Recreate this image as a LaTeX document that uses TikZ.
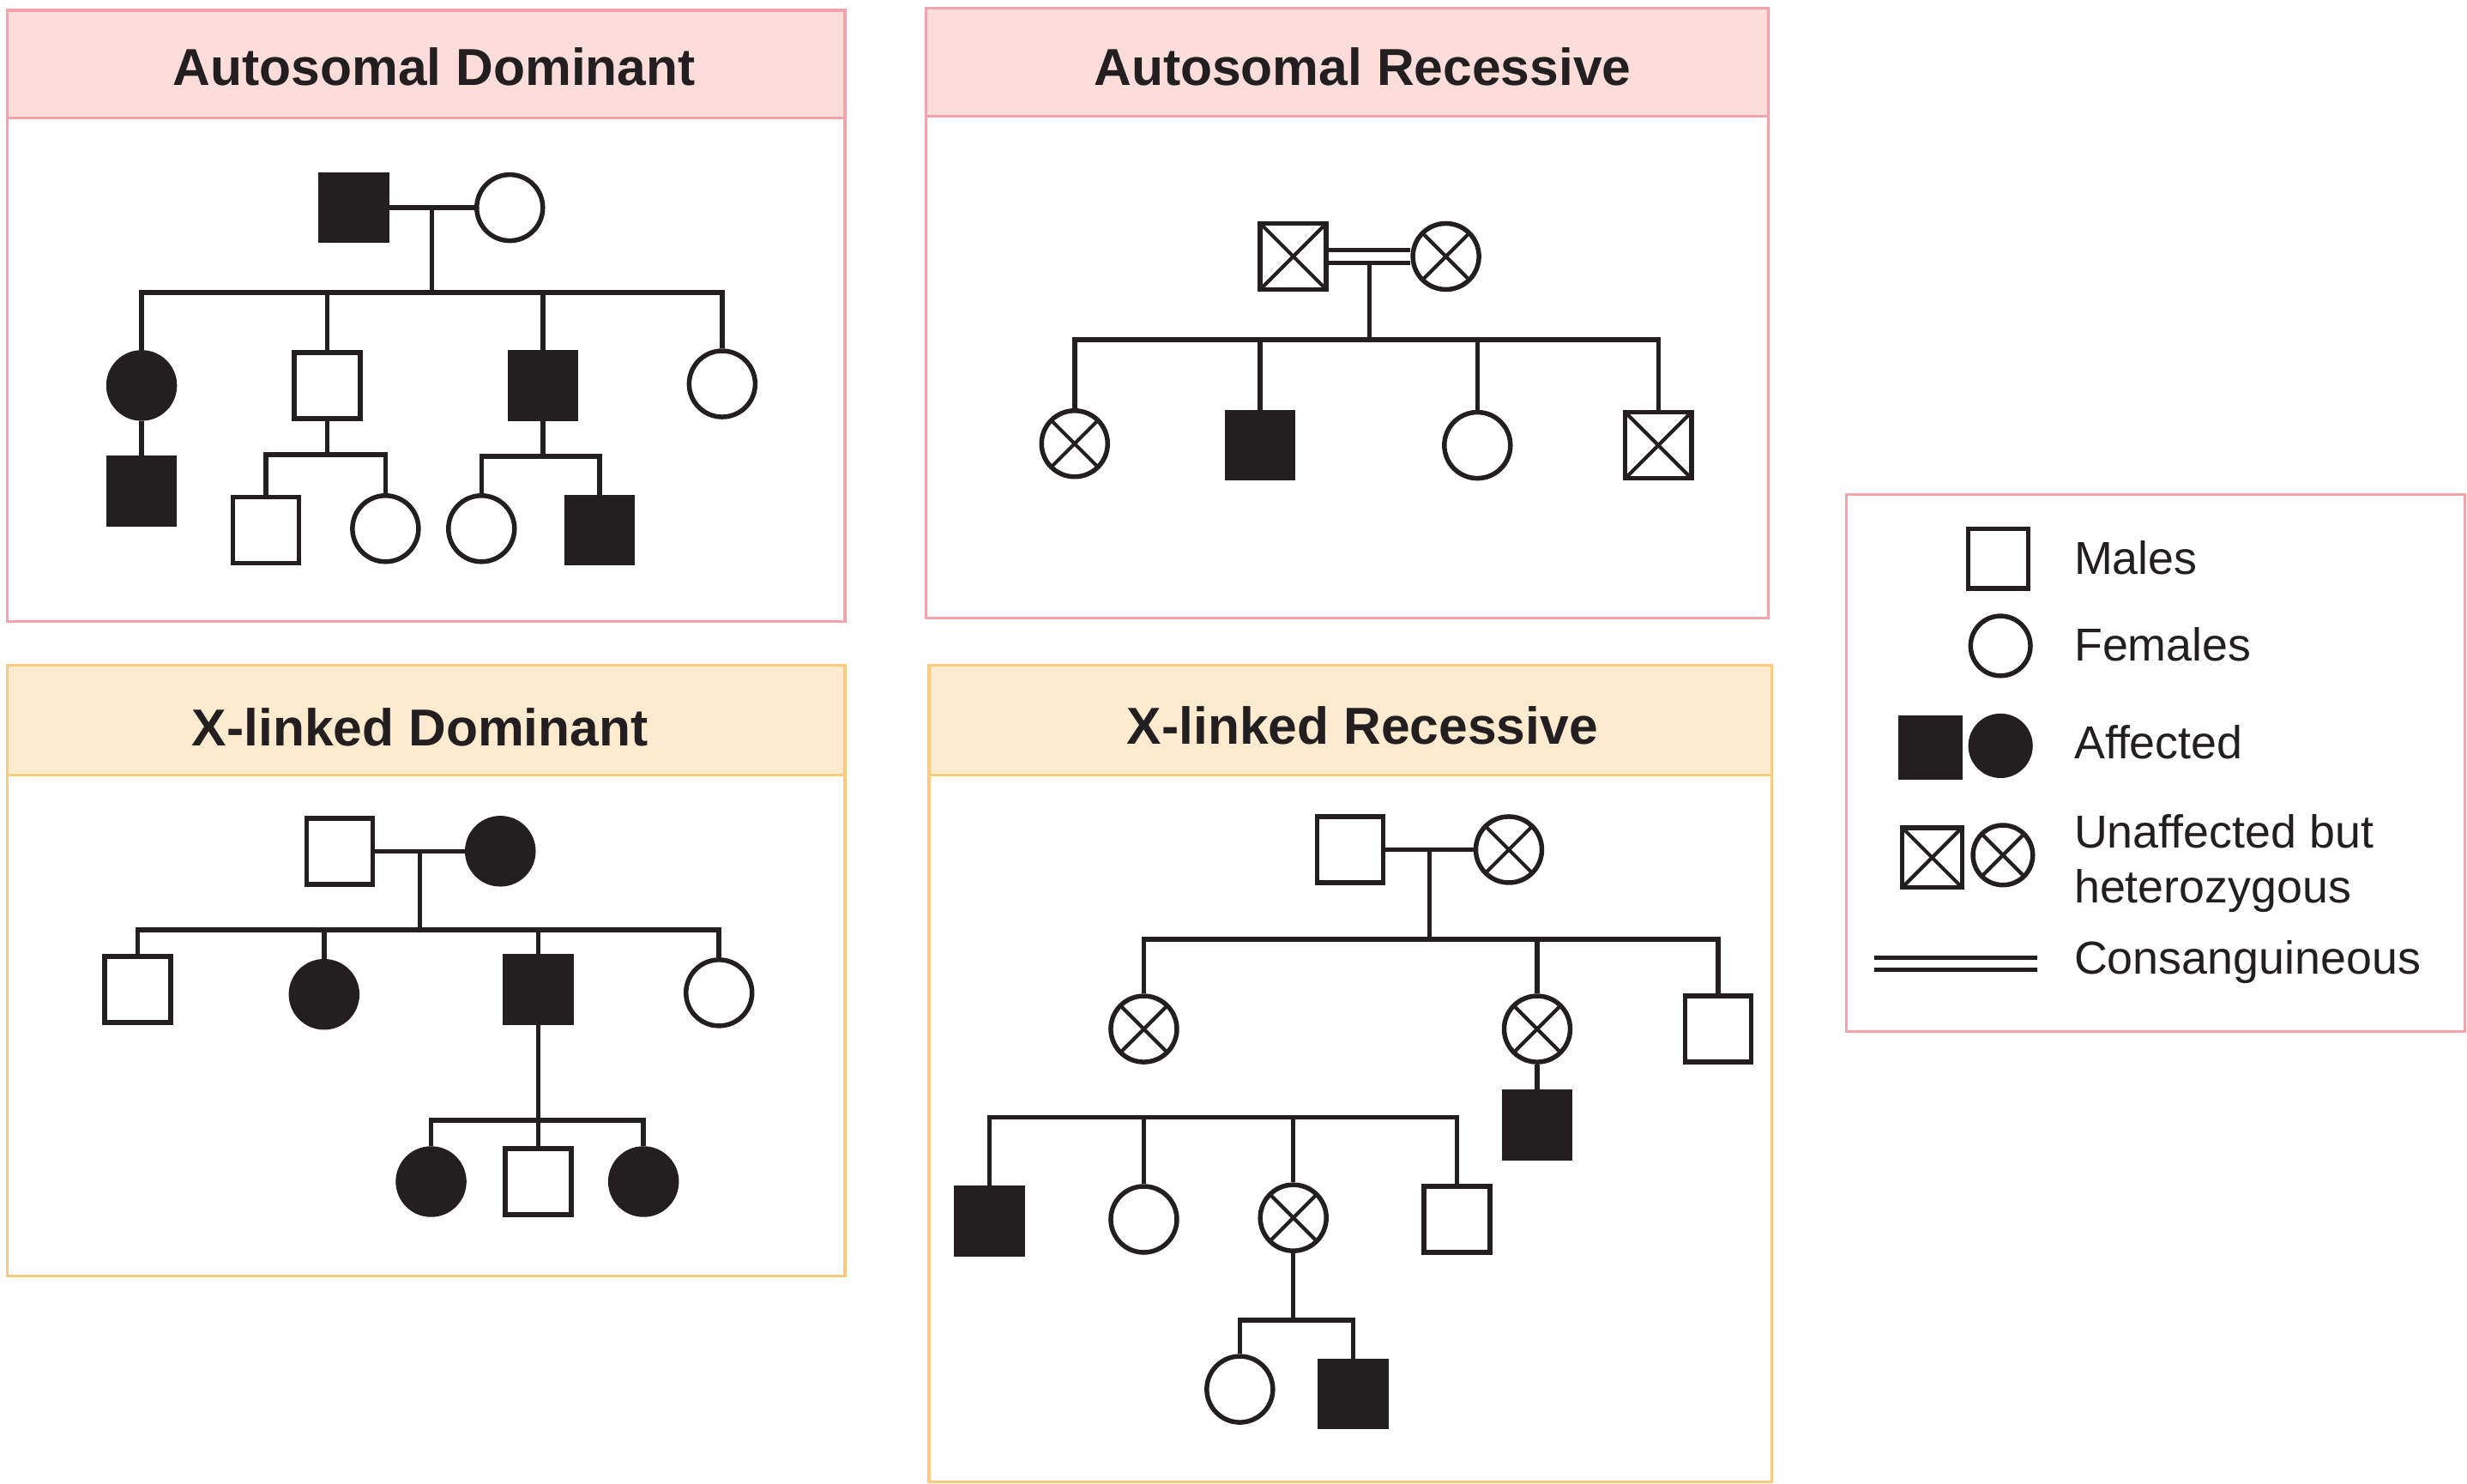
\documentclass[tikz,border=0pt]{standalone}
\usepackage{fontspec}
\setmainfont{Liberation Sans}
\usetikzlibrary{calc,positioning,backgrounds}
\definecolor{ink}{HTML}{231F20}
\definecolor{rosepen}{HTML}{F4A3AB}
\definecolor{rosefill}{HTML}{FCDDDA}
\definecolor{amberpen}{HTML}{FDC97C}
\definecolor{amberfill}{HTML}{FEEBCF}
\tikzset{
person/.style={draw=ink,line width=1.7pt,minimum size=0.84cm,inner sep=0pt},
male/.style={person,rectangle},
female/.style={person,circle},
affected/.style={fill=ink},
carrier/.style={path picture={\draw[ink,line width=1.3pt]
  (path picture bounding box.north west) -- (path picture bounding box.south east)
  (path picture bounding box.north east) -- (path picture bounding box.south west);}},
keysize/.style={minimum size=0.76cm},
link/.style={draw=ink,line width=1.7pt},
consang/.style={draw=ink,line width=1.5pt,double=white,double distance=3pt},
panel/.style={line width=1pt},
paneltitle/.style={anchor=base,inner sep=0pt,text=ink,
  font=\fontsize{18.8}{22}\selectfont\bfseries},
keytext/.style={anchor=base west,inner sep=0pt,text=ink,
  font=\fontsize{16.7}{20}\selectfont},
}

\begin{document}
\begin{tikzpicture}[x=0.02cm,y=-0.02cm]
\useasboundingbox (0,0) rectangle (1568,943);

% panels
\draw[panel,draw=rosepen] (4.5,6.5) rectangle (537,395);
\draw[panel,draw=rosepen,fill=rosefill] (4.5,6.5) rectangle (537,75);
\node[paneltitle] (ad-t) at (276,54) {Autosomal Dominant};
\draw[panel,draw=rosepen] (588.5,5) rectangle (1124,393);
\draw[panel,draw=rosepen,fill=rosefill] (588.5,5) rectangle (1124,74);
\node[paneltitle] (ar-t) at (866,54) {Autosomal Recessive};
\draw[panel,draw=amberpen] (4.5,423) rectangle (537,811);
\draw[panel,draw=amberpen,fill=amberfill] (4.5,423) rectangle (537,492.5);
\node[paneltitle] (xd-t) at (267,474) {X-linked Dominant};
\draw[panel,draw=amberpen] (590.5,423) rectangle (1126,942);
\draw[panel,draw=amberpen,fill=amberfill] (590.5,423) rectangle (1126,492.5);
\node[paneltitle] (xr-t) at (866,473) {X-linked Recessive};
\draw[panel,draw=rosepen] (1173.5,314.5) rectangle (1566.5,655.5);

% autosomal dominant
\node[male,affected] (ad-f) at (225,132) {};
\node[female] (ad-m) at (324,132) {};
\node[female,affected] (ad-c1) at (90,245) {};
\node[male] (ad-c2) at (208,245) {};
\node[male,affected] (ad-c3) at (345,245) {};
\node[female] (ad-c4) at (459,244) {};
\node[male,affected] (ad-g1) at (90,312) {};
\node[male] (ad-g2) at (169,337) {};
\node[female] (ad-g3) at (245,336) {};
\node[female] (ad-g4) at (306,336) {};
\node[male,affected] (ad-g5) at (381,337) {};

\path[link] (ad-f) edge (ad-m);
\coordinate (ad-j) at ($(ad-f)!.5!(ad-m)$);
\coordinate (ad-s) at ($(ad-j)+(0,54)$);
\path[link] (ad-j) edge (ad-s);
\draw[link] (ad-c1.north) |- (ad-s) -| (ad-c4.north);
\foreach \c in {c2,c3}
  \draw[link] (ad-\c.north) -- (ad-\c.north |- ad-s);
\path[link] (ad-c1) edge (ad-g1);
\coordinate (ad-s2) at ($(ad-c2)+(0,44)$);
\path[link] (ad-c2) edge (ad-s2);
\draw[link] (ad-g2.north) |- (ad-s2) -| (ad-g3.north);
\coordinate (ad-s3) at ($(ad-c3)+(0,45)$);
\path[link] (ad-c3) edge (ad-s3);
\draw[link] (ad-g4.north) |- (ad-s3) -| (ad-g5.north);

% autosomal recessive
\node[male,carrier] (ar-f) at (822,163) {};
\node[female,carrier] (ar-m) at (919,163) {};
\node[female,carrier] (ar-c1) at (683,282) {};
\node[male,affected] (ar-c2) at (801,283) {};
\node[female] (ar-c3) at (939,283) {};
\node[male,carrier] (ar-c4) at (1054,283) {};

\begin{scope}[on background layer]
\draw[consang] (ar-f) -- (ar-m);
\end{scope}
\coordinate (ar-j) at ($(ar-f)!.5!(ar-m)+(0,4)$);
\coordinate (ar-s) at ($(ar-j)+(0,49)$);
\path[link] (ar-j) edge (ar-s);
\draw[link] (ar-c1.north) |- (ar-s) -| (ar-c4.north);
\foreach \c in {c2,c3}
  \draw[link] (ar-\c.north) -- (ar-\c.north |- ar-s);

% x-linked dominant
\node[male] (xd-f) at (216,541) {};
\node[female,affected] (xd-m) at (318,541) {};
\node[male] (xd-c1) at (87.5,629) {};
\node[female,affected] (xd-c2) at (206,632) {};
\node[male,affected] (xd-c3) at (342,629) {};
\node[female] (xd-c4) at (457,631) {};
\node[female,affected] (xd-g1) at (274,751) {};
\node[male] (xd-g2) at (342,751) {};
\node[female,affected] (xd-g3) at (409,751) {};

\path[link] (xd-f) edge (xd-m);
\coordinate (xd-j) at ($(xd-f)!.5!(xd-m)$);
\coordinate (xd-s) at ($(xd-j)+(0,50)$);
\path[link] (xd-j) edge (xd-s);
\draw[link] (xd-c1.north) |- (xd-s) -| (xd-c4.north);
\foreach \c in {c2,c3}
  \draw[link] (xd-\c.north) -- (xd-\c.north |- xd-s);
\coordinate (xd-s2) at ($(xd-c3)+(0,83)$);
\path[link] (xd-c3) edge (xd-s2);
\draw[link] (xd-g1.north) |- (xd-s2) -| (xd-g3.north);
\draw[link] (xd-g2.north) -- (xd-g2.north |- xd-s2);

% x-linked recessive
\node[male] (xr-f) at (858,540) {};
\node[female,carrier] (xr-m) at (959,540) {};
\node[female,carrier] (xr-c1) at (727,654) {};
\node[female,carrier] (xr-c2) at (977,654) {};
\node[male] (xr-c3) at (1092,654) {};
\node[male,affected] (xr-d1) at (977,715) {};
\node[male,affected] (xr-g1) at (629,776) {};
\node[female] (xr-g2) at (727,775) {};
\node[female,carrier] (xr-g3) at (822,774) {};
\node[male] (xr-g4) at (926,775) {};
\node[female] (xr-h1) at (788,883) {};
\node[male,affected] (xr-h2) at (860,886) {};

\path[link] (xr-f) edge (xr-m);
\coordinate (xr-j) at ($(xr-f)!.5!(xr-m)$);
\coordinate (xr-s) at ($(xr-j)+(0,57)$);
\path[link] (xr-j) edge (xr-s);
\draw[link] (xr-c1.north) |- (xr-s) -| (xr-c3.north);
\draw[link] (xr-c2.north) -- (xr-c2.north |- xr-s);
\path[link] (xr-c2) edge (xr-d1);
\coordinate (xr-s2) at (822,710);
\draw[link] (xr-g1.north) |- (xr-s2) -| (xr-g4.north);
\foreach \c in {g2,g3}
  \draw[link] (xr-\c.north) -- (xr-\c.north |- xr-s2);
\coordinate (xr-s3) at ($(xr-g3)+(0,65)$);
\path[link] (xr-g3) edge (xr-s3);
\draw[link] (xr-h1.north) |- (xr-s3) -| (xr-h2.north);

% key
\node[male,keysize] (lg-m) at (1270,355) {};
\node[keytext] (lg-mt) at (1318,365) {Males};
\node[female,keysize] (lg-f) at (1271.5,410.5) {};
\node[keytext] (lg-ft) at (1318,420) {Females};
\node[male,affected,keysize] (lg-am) at (1227,475) {};
\node[female,affected,keysize] (lg-af) at (1271.5,474) {};
\node[keytext] (lg-at) at (1318,482) {Affected};
\node[male,carrier,keysize] (lg-cm) at (1228,545) {};
\node[female,carrier,keysize] (lg-cf) at (1273,543.5) {};
\node[keytext] (lg-ct1) at (1318,539) {Unaffected but};
\node[keytext] (lg-ct2) at (1318,574) {heterozygous};
\coordinate (lg-l1) at (1191,612.5);
\coordinate (lg-l2) at (1295,612.5);
\draw[consang] (lg-l1) -- (lg-l2);
\node[keytext] (lg-lt) at (1318,619) {Consanguineous};
\end{tikzpicture}
\end{document}
